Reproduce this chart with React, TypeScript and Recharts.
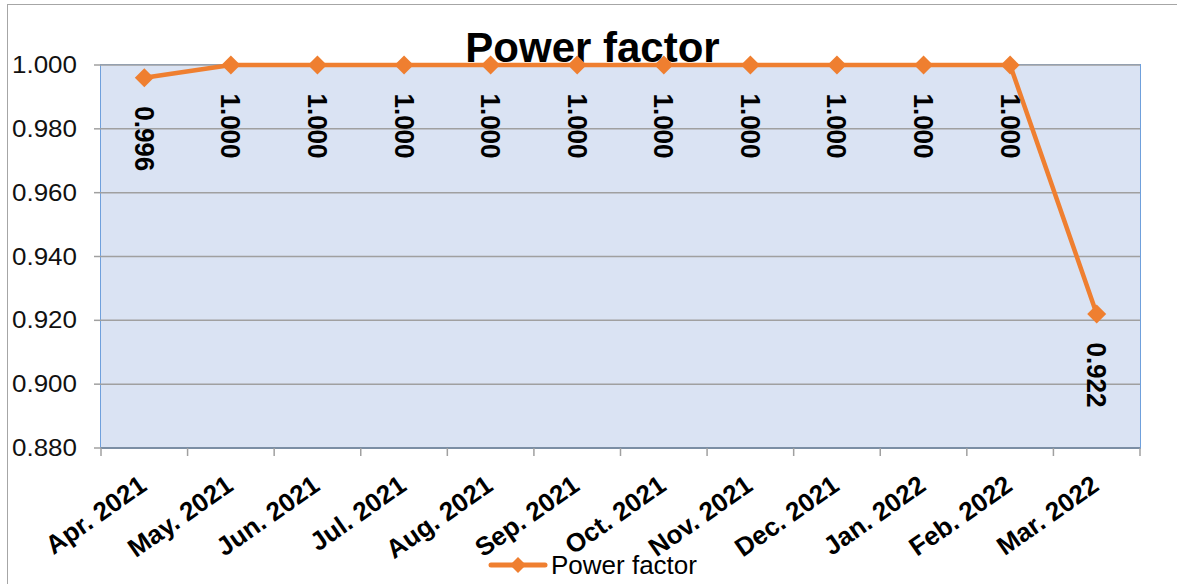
import { LineChart, Line, XAxis, YAxis, CartesianGrid } from 'recharts';

const months = [
  'Apr. 2021', 'May. 2021', 'Jun. 2021', 'Jul. 2021', 'Aug. 2021', 'Sep. 2021',
  'Oct. 2021', 'Nov. 2021', 'Dec. 2021', 'Jan. 2022', 'Feb. 2022', 'Mar. 2022',
];
const powerFactor = [0.996, 1.0, 1.0, 1.0, 1.0, 1.0, 1.0, 1.0, 1.0, 1.0, 1.0, 0.922];
const yTicks = [0.88, 0.9, 0.92, 0.94, 0.96, 0.98, 1.0];

const W = 1177;
const H = 584;
const margin = { top: 65, right: 37, bottom: 0, left: 0 };
const yAxisWidth = 101;
const xAxisHeight = 136;
const plotW = W - margin.right - margin.left - yAxisWidth;
const plotH = H - margin.top - margin.bottom - xAxisHeight;
const halfBand = plotW / months.length / 2;

const ORANGE = '#ef7f30';
const FONT = '"Liberation Sans", Arial, sans-serif';

const data = months.map((m, i) => ({ month: m, value: powerFactor[i] }));

function XTick(props: any) {
  const { x, y, payload, index } = props;
  const tx = x + 4;
  const ty = y + 41;
  return (
    <g>
      <line x1={x - halfBand} x2={x - halfBand} y1={y} y2={y + 8} stroke="#a0a0a0" strokeWidth={1.5} />
      {index === months.length - 1 && (
        <line x1={x + halfBand} x2={x + halfBand} y1={y} y2={y + 8} stroke="#a0a0a0" strokeWidth={1.5} />
      )}
      <text
        x={tx}
        y={ty}
        textAnchor="end"
        fontSize={26}
        fontWeight="bold"
        fontFamily={FONT}
        fill="#000"
        transform={`rotate(-35, ${tx}, ${ty})`}
      >
        {payload.value}
      </text>
    </g>
  );
}

function YTick(props: any) {
  const { x, y, payload } = props;
  return (
    <text
      x={x}
      y={y}
      textAnchor="end"
      dominantBaseline="central"
      fontSize={23}
      fontFamily={FONT}
      fill="#111"
      textLength={65}
      lengthAdjust="spacingAndGlyphs"
    >
      {payload.value.toFixed(3)}
    </text>
  );
}

function Diamond(props: any) {
  const { cx, cy, index } = props;
  const r = 9.5;
  return (
    <polygon
      key={`d-${index}`}
      points={`${cx},${cy - r} ${cx + r},${cy} ${cx},${cy + r} ${cx - r},${cy}`}
      fill={ORANGE}
    />
  );
}

function ValueLabel(props: any) {
  const { x, y, value, index } = props;
  const cy = y + 61;
  return (
    <text
      key={`l-${index}`}
      x={x}
      y={cy}
      textAnchor="middle"
      dominantBaseline="central"
      fontSize={28}
      fontWeight="bold"
      fontFamily={FONT}
      fill="#000"
      textLength={65}
      lengthAdjust="spacingAndGlyphs"
      transform={`rotate(90, ${x}, ${cy})`}
    >
      {Number(value).toFixed(3)}
    </text>
  );
}

export default function App() {
  return (
    <div style={{ position: 'absolute', left: 0, top: 0, width: W, height: H, overflow: 'hidden', background: '#fff', fontFamily: FONT }}>
      <div style={{ position: 'absolute', left: 7, top: 4, width: W, height: H, border: '1px solid #a6a6a6' }} />
      <div
        style={{
          position: 'absolute', left: 0, top: 27, width: W - 8 + 16, textAlign: 'center',
          fontSize: 42, fontWeight: 'bold', lineHeight: '42px', color: '#000',
        }}
      >
        Power factor
      </div>
      {/* plot area background + blue frame */}
      <div
        style={{
          position: 'absolute', left: margin.left + yAxisWidth - 1, top: margin.top - 1,
          width: plotW, height: plotH, background: '#dae3f3', border: '1.5px solid #6fa0dc',
        }}
      />
      <div style={{ position: 'absolute', left: 0, top: 0 }}>
        <LineChart width={W} height={H} data={data} margin={margin}>
          <CartesianGrid vertical={false} stroke="#a0a0a0" strokeWidth={1.5} />
          <XAxis
            dataKey="month"
            height={xAxisHeight}
            interval={0}
            padding={{ left: halfBand, right: halfBand }}
            tickLine={false}
            tickSize={0}
            tickMargin={0}
            axisLine={{ stroke: '#7b8ea4', strokeWidth: 2 }}
            tick={<XTick />}
          />
          <YAxis
            width={yAxisWidth}
            domain={[0.88, 1.0]}
            ticks={yTicks}
            interval={0}
            axisLine={false}
            tickSize={7}
            tickMargin={17}
            tickLine={{ stroke: '#a0a0a0', strokeWidth: 1.5 }}
            tick={<YTick />}
          />
          <Line
            dataKey="value"
            stroke={ORANGE}
            strokeWidth={4.5}
            dot={Diamond}
            activeDot={false}
            label={ValueLabel}
            isAnimationActive={false}
          />
        </LineChart>
      </div>
      <div style={{ position: 'absolute', left: 488, top: 547, display: 'flex', alignItems: 'center', height: 36 }}>
        <svg width={60} height={20}>
          <line x1={3} x2={57} y1={10} y2={10} stroke={ORANGE} strokeWidth={5} strokeLinecap="round" />
          <polygon points="30,2 38,10 30,18 22,10" fill={ORANGE} />
        </svg>
        <span style={{ fontSize: 26, color: '#000', marginLeft: 3, lineHeight: '36px' }}>Power factor</span>
      </div>
    </div>
  );
}
